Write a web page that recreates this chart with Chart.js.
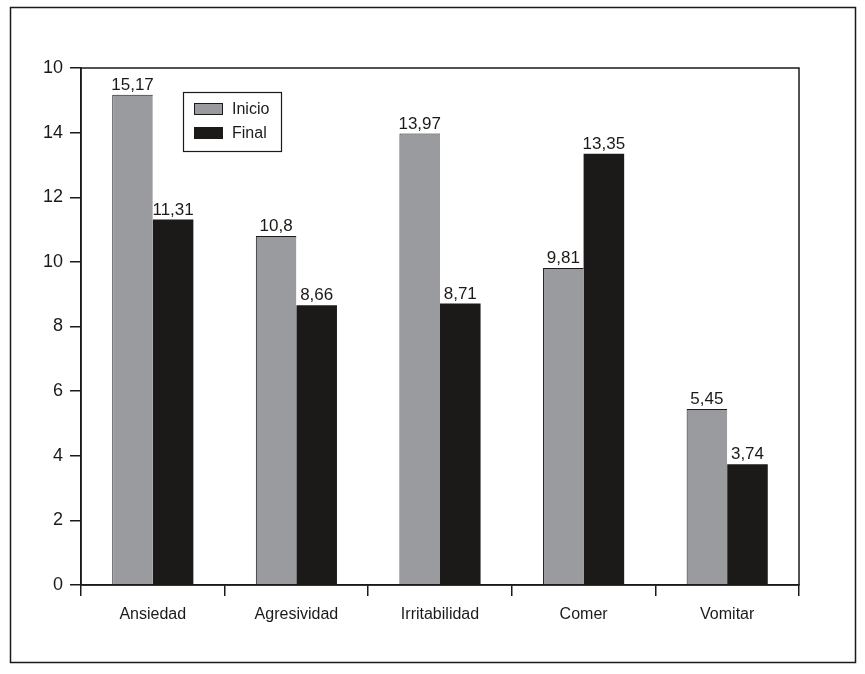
<!DOCTYPE html>
<html>
<head>
<meta charset="utf-8">
<script src="https://cdn.jsdelivr.net/npm/chart.js@4/dist/chart.umd.min.js"></script>
<style>
  html, body { margin: 0; padding: 0; background: #fff; }
  #wrap { width: 865px; height: 674px; position: relative; }
</style>
</head>
<body>
<div id="wrap"><canvas id="chart" width="865" height="674"></canvas></div>
<script>
var categories = ['Ansiedad', 'Agresividad', 'Irritabilidad', 'Comer', 'Vomitar'];
var inicio = [15.17, 10.8, 13.97, 9.81, 5.45];
var final = [11.31, 8.66, 8.71, 13.35, 3.74];
var yTicks = [0, 2, 4, 6, 8, 10, 12, 14, 16];
var yTickLabels = ['0', '2', '4', '6', '8', '10', '12', '14', '10'];

var ink = '#1c1a18';
var gray = '#9a9b9f';
var font = '"Liberation Sans", Arial, sans-serif';

// frames, value labels and legend box
var extras = {
    id: 'extras',
    afterDraw: function (chart) {
        var ctx = chart.ctx;
        var a = chart.chartArea;
        ctx.save();
        ctx.strokeStyle = ink;
        ctx.lineWidth = 1.5;
        ctx.strokeRect(10.5, 7.5, 845, 655);
        ctx.strokeRect(a.left, a.top, a.right - a.left, a.bottom - a.top);

        ctx.fillStyle = ink;
        ctx.font = '17px ' + font;
        ctx.textAlign = 'center';
        ctx.textBaseline = 'bottom';
        chart.data.datasets.forEach(function (ds, i) {
            chart.getDatasetMeta(i).data.forEach(function (bar, j) {
                var txt = String(ds.data[j]).replace('.', ',');
                ctx.fillText(txt, bar.x, bar.y - 1);
            });
        });

        // legend
        ctx.lineWidth = 1.2;
        ctx.strokeRect(183.5, 92.5, 98, 59);
        ctx.font = '16px ' + font;
        ctx.textAlign = 'left';
        ctx.textBaseline = 'middle';
        chart.data.datasets.forEach(function (ds, i) {
            var y = 103 + i * 24;
            ctx.fillStyle = ds.backgroundColor;
            ctx.fillRect(194, y, 29, 12);
            ctx.strokeStyle = ink;
            ctx.lineWidth = 1;
            ctx.strokeRect(194.5, y + 0.5, 28, 11);
            ctx.fillStyle = ink;
            ctx.fillText(ds.label, 232, y + 6.5);
        });
        ctx.restore();
    }
};

new Chart(document.getElementById('chart'), {
    type: 'bar',
    data: {
        labels: categories,
        datasets: [{
            label: 'Inicio',
            data: inicio,
            backgroundColor: gray,
            borderColor: ink,
            borderWidth: {top: 1, left: 1, right: 0, bottom: 0},
            borderSkipped: false
        }, {
            label: 'Final',
            data: final,
            backgroundColor: ink,
            borderColor: ink,
            borderWidth: 0
        }]
    },
    options: {
        responsive: false,
        animation: false,
        layout: { padding: { left: 0, top: 68, right: 66, bottom: 0 } },
        plugins: {
            legend: { display: false },
            tooltip: { enabled: false }
        },
        datasets: { bar: { categoryPercentage: 0.565, barPercentage: 1 } },
        scales: {
            x: {
                offset: true,
                grid: { offset: true, drawOnChartArea: false, drawTicks: true, tickLength: 11, color: ink, lineWidth: 1.5 },
                border: { display: true, color: ink, width: 1.5 },
                ticks: { color: ink, font: { family: font, size: 16 }, padding: 9, maxRotation: 0 },
                afterFit: function (s) { s.height = 89; }
            },
            y: {
                min: 0,
                max: 16,
                afterBuildTicks: function (s) {
                    s.ticks = yTicks.map(function (v) { return { value: v }; });
                },
                grid: { drawOnChartArea: false, drawTicks: true, tickLength: 11, color: ink, lineWidth: 1.5 },
                border: { display: true, color: ink, width: 1.5 },
                ticks: {
                    color: ink,
                    font: { family: font, size: 18 },
                    padding: 7,
                    callback: function (v, i) { return yTickLabels[i]; }
                },
                afterFit: function (s) { s.width = 81; }
            }
        }
    },
    plugins: [extras]
});
</script>
</body>
</html>
